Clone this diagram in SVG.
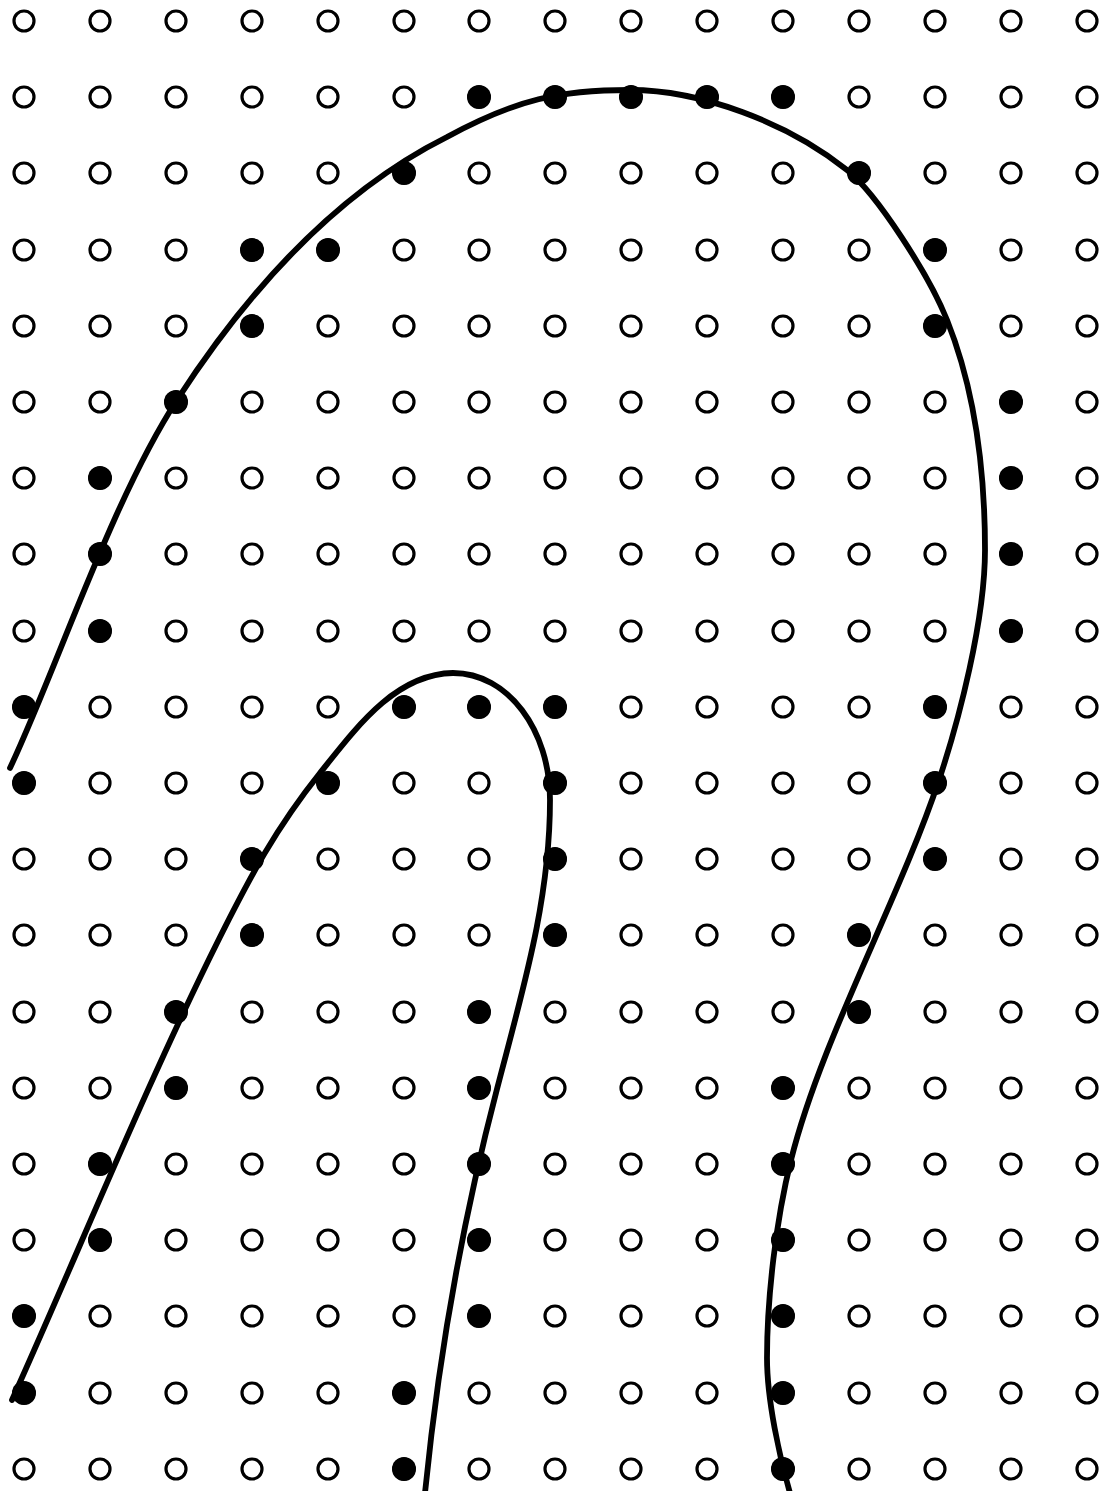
<svg xmlns="http://www.w3.org/2000/svg" xmlns:xlink="http://www.w3.org/1999/xlink" width="1103" height="1491" viewBox="0 0 1103 1491">
<style>
.o{fill:none;stroke:#000;stroke-width:3.2}
.f{fill:#000}
.c{fill:none;stroke:#000;stroke-width:5.8;stroke-linecap:round;stroke-linejoin:round}
</style>
<defs>
<g id="row">
<circle class="o" cx="24" cy="0" r="10"/><circle class="o" cx="100" cy="0" r="10"/><circle class="o" cx="176" cy="0" r="10"/><circle class="o" cx="252" cy="0" r="10"/><circle class="o" cx="328" cy="0" r="10"/><circle class="o" cx="404" cy="0" r="10"/><circle class="o" cx="479" cy="0" r="10"/><circle class="o" cx="555" cy="0" r="10"/><circle class="o" cx="631" cy="0" r="10"/><circle class="o" cx="707" cy="0" r="10"/><circle class="o" cx="783" cy="0" r="10"/><circle class="o" cx="859" cy="0" r="10"/><circle class="o" cx="935" cy="0" r="10"/><circle class="o" cx="1011" cy="0" r="10"/><circle class="o" cx="1087" cy="0" r="10"/>
</g>
</defs>
<rect width="1103" height="1491" fill="#fff"/>
<g id="grid">
<use xlink:href="#row" href="#row" y="21"/>
<use xlink:href="#row" href="#row" y="97"/>
<use xlink:href="#row" href="#row" y="173"/>
<use xlink:href="#row" href="#row" y="250"/>
<use xlink:href="#row" href="#row" y="326"/>
<use xlink:href="#row" href="#row" y="402"/>
<use xlink:href="#row" href="#row" y="478"/>
<use xlink:href="#row" href="#row" y="554"/>
<use xlink:href="#row" href="#row" y="631"/>
<use xlink:href="#row" href="#row" y="707"/>
<use xlink:href="#row" href="#row" y="783"/>
<use xlink:href="#row" href="#row" y="859"/>
<use xlink:href="#row" href="#row" y="935"/>
<use xlink:href="#row" href="#row" y="1012"/>
<use xlink:href="#row" href="#row" y="1088"/>
<use xlink:href="#row" href="#row" y="1164"/>
<use xlink:href="#row" href="#row" y="1240"/>
<use xlink:href="#row" href="#row" y="1316"/>
<use xlink:href="#row" href="#row" y="1393"/>
<use xlink:href="#row" href="#row" y="1469"/>
</g>
<g id="filled" class="f">
<circle cx="479" cy="97" r="12"/><circle cx="555" cy="97" r="12"/><circle cx="631" cy="97" r="12"/><circle cx="707" cy="97" r="12"/><circle cx="783" cy="97" r="12"/>
<circle cx="404" cy="173" r="12"/><circle cx="859" cy="173" r="12"/>
<circle cx="252" cy="250" r="12"/><circle cx="328" cy="250" r="12"/><circle cx="935" cy="250" r="12"/>
<circle cx="252" cy="326" r="12"/><circle cx="935" cy="326" r="12"/>
<circle cx="176" cy="402" r="12"/><circle cx="1011" cy="402" r="12"/>
<circle cx="100" cy="478" r="12"/><circle cx="1011" cy="478" r="12"/>
<circle cx="100" cy="554" r="12"/><circle cx="1011" cy="554" r="12"/>
<circle cx="100" cy="631" r="12"/><circle cx="1011" cy="631" r="12"/>
<circle cx="24" cy="707" r="12"/><circle cx="404" cy="707" r="12"/><circle cx="479" cy="707" r="12"/><circle cx="555" cy="707" r="12"/><circle cx="935" cy="707" r="12"/>
<circle cx="24" cy="783" r="12"/><circle cx="328" cy="783" r="12"/><circle cx="555" cy="783" r="12"/><circle cx="935" cy="783" r="12"/>
<circle cx="252" cy="859" r="12"/><circle cx="555" cy="859" r="12"/><circle cx="935" cy="859" r="12"/>
<circle cx="252" cy="935" r="12"/><circle cx="555" cy="935" r="12"/><circle cx="859" cy="935" r="12"/>
<circle cx="176" cy="1012" r="12"/><circle cx="479" cy="1012" r="12"/><circle cx="859" cy="1012" r="12"/>
<circle cx="176" cy="1088" r="12"/><circle cx="479" cy="1088" r="12"/><circle cx="783" cy="1088" r="12"/>
<circle cx="100" cy="1164" r="12"/><circle cx="479" cy="1164" r="12"/><circle cx="783" cy="1164" r="12"/>
<circle cx="100" cy="1240" r="12"/><circle cx="479" cy="1240" r="12"/><circle cx="783" cy="1240" r="12"/>
<circle cx="24" cy="1316" r="12"/><circle cx="479" cy="1316" r="12"/><circle cx="783" cy="1316" r="12"/>
<circle cx="24" cy="1393" r="12"/><circle cx="404" cy="1393" r="12"/><circle cx="783" cy="1393" r="12"/>
<circle cx="404" cy="1469" r="12"/><circle cx="783" cy="1469" r="12"/>
</g>
<g id="curves">
<path id="outer" class="c" d="M10,768 C57,668 112,500 177,400 C245,295 335,193 447,137 C517,99 560,90 630,90 C700,90 787,122 847,170 C877,194 929,275 947,320 C975,390 985,470 985,550 C985,620 959,720 939,780 C899,900 821,1040 791,1160 C776,1220 767,1298 767,1358 C767,1400 779.5,1457 790,1493"/>
<path id="inner" class="c" d="M12,1400 C79.5,1250 145,1087 220,937 C250,877 276,828 320,773 C356,728 395,674 453,673 C508,673 550,730 550,800 C550,900 523,989 497,1089 C463,1219 438,1362 425,1493"/>
</g>
</svg>
